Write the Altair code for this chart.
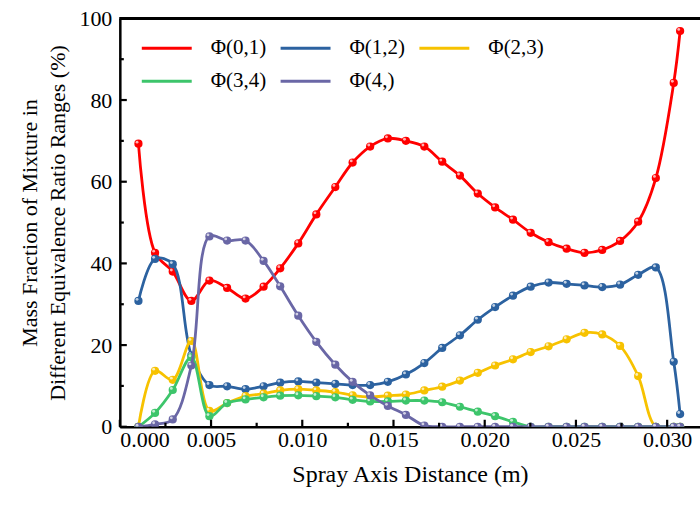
import altair as alt
import pandas as pd

# ---- data ----
x_pos = [0.00102, 0.00193, 0.00290, 0.00392, 0.00491, 0.00588, 0.00689, 0.00788,
         0.00879, 0.00978, 0.01077, 0.01181, 0.01276, 0.01372, 0.01469, 0.01568,
         0.01669, 0.01767, 0.01864, 0.01962, 0.02057, 0.02155, 0.02252, 0.02350,
         0.02449, 0.02547, 0.02644, 0.02742, 0.02841, 0.02938, 0.03036, 0.03071]

phi_01 = [69.3, 42.6, 38.0, 30.8, 35.8, 34.0, 31.4, 34.3, 38.8, 44.9, 52.0, 58.7,
          64.7, 68.6, 70.6, 70.0, 68.6, 64.9, 61.5, 57.1, 53.7, 50.7, 47.5, 45.2,
          43.6, 42.6, 43.3, 45.5, 50.2, 60.9, 84.2, 96.9]
phi_12 = [30.8, 41.1, 39.8, 17.5, 10.2, 9.9, 9.2, 9.9, 10.8, 11.1, 10.8, 10.5,
          10.2, 10.2, 11.0, 12.8, 15.6, 19.3, 22.4, 26.2, 29.3, 32.1, 34.3, 35.3,
          35.0, 34.6, 34.2, 34.8, 37.2, 39.0, 15.9, 3.1]
phi_23 = [0.0, 13.7, 11.5, 21.0, 3.9, 5.8, 7.5, 8.1, 8.9, 9.2, 8.9, 8.5,
          7.7, 7.3, 7.6, 7.9, 8.9, 9.8, 11.3, 13.2, 15.0, 16.5, 18.3, 19.7,
          21.4, 23.0, 22.6, 19.8, 12.4, 0.0, 0.0, 0.0]
phi_34 = [0.0, 3.4, 9.0, 17.0, 2.6, 5.8, 6.7, 7.2, 7.6, 7.7, 7.5, 7.2,
          6.6, 6.2, 6.2, 6.4, 6.4, 6.0, 4.9, 3.7, 2.6, 1.2, 0.0, 0.0,
          0.0, 0.0, 0.0, 0.0, 0.0, 0.0, 0.0, 0.0]
phi_4 = [0.0, 0.6, 1.8, 15.0, 46.6, 45.6, 45.6, 40.6, 34.4, 27.2, 20.8, 15.2,
         11.0, 7.7, 5.1, 2.9, 0.3, 0.0, 0.0, 0.0, 0.0, 0.0, 0.0, 0.0,
         0.0, 0.0, 0.0, 0.0, 0.0, 0.0, 0.0, 0.0]

series_names = ["Φ(0,1)", "Φ(1,2)", "Φ(2,3)", "Φ(3,4)", "Φ(4,)"]
series_values = [phi_01, phi_12, phi_23, phi_34, phi_4]
series_colors = ["#FF0000", "#2C62A0", "#F7C200", "#3DC56B", "#6A67A6"]

x_major = [0.0, 0.005, 0.010, 0.015, 0.020, 0.025, 0.030]
x_minor = [0.0025, 0.0075, 0.0125, 0.0175, 0.0225, 0.0275]
y_major = [0, 20, 40, 60, 80, 100]
y_minor = [10, 30, 50, 70, 90]

W, H = 581, 409
FONT = "Liberation Serif"

rows = []
for name, vals in zip(series_names, series_values):
    for xv, yv in zip(x_pos, vals):
        rows.append({"x": xv, "y": yv, "s": name})
df = pd.DataFrame(rows)

xs = alt.Scale(domain=[0, 0.0318], nice=False, zero=False)
ys = alt.Scale(domain=[0, 100], nice=False)
color_scale = alt.Scale(domain=series_names, range=series_colors)

x_axis = alt.Axis(values=x_major, format=".3f", tickSize=0, labelPadding=3,
                  labelFont=FONT, labelFontSize=22, labelColor="black",
                  title="Spray Axis Distance (m)", titleFont=FONT, titleFontSize=24,
                  titleFontWeight="normal", titleColor="black", titlePadding=12,
                  domainColor="black", domainWidth=2.5, grid=False)
y_axis = alt.Axis(values=y_major, tickSize=0, labelPadding=8,
                  labelFont=FONT, labelFontSize=22, labelColor="black",
                  title=["Mass Fraction of Mixture in",
                         "Different Equivalence Ratio Ranges (%)"],
                  titleFont=FONT, titleFontSize=22, titleFontWeight="normal",
                  titleColor="black", titlePadding=9, titleLineHeight=28,
                  domainColor="black", domainWidth=2.5, grid=False)

legend = alt.Legend(title=None, orient="none", legendX=22, legendY=16,
                    direction="horizontal", columns=3, gridAlign="all",
                    symbolType="M-2,0H2", symbolSize=625, symbolOffset=11,
                    symbolStrokeWidth=3, labelFont=FONT, labelFontSize=21,
                    labelColor="black", labelOffset=30, columnPadding=8,
                    rowPadding=9, labelLimit=200)

layers = []
base = alt.Chart(df).mark_point(opacity=0).encode(
    x=alt.X("x:Q", scale=xs, axis=x_axis),
    y=alt.Y("y:Q", scale=ys, axis=y_axis),
)
layers.append(base)

for name in series_names:
    sub = df[df.s == name]
    line = alt.Chart(sub).mark_line(interpolate="catmull-rom", strokeWidth=2.8, clip=True).encode(
        x=alt.X("x:Q", scale=xs),
        y=alt.Y("y:Q", scale=ys),
        color=alt.Color("s:N", scale=color_scale, sort=series_names, legend=legend),
    )
    pts = alt.Chart(sub).mark_circle(size=68, opacity=1, clip=True).encode(
        x=alt.X("x:Q", scale=xs),
        y=alt.Y("y:Q", scale=ys),
        color=alt.Color("s:N", scale=color_scale, legend=None),
    )
    hl = alt.Chart(sub).mark_circle(size=8, color="white", opacity=0.7, xOffset=-1.4,
                                    yOffset=-1.6, clip=True).encode(
        x=alt.X("x:Q", scale=xs),
        y=alt.Y("y:Q", scale=ys),
    )
    layers += [line, pts, hl]

# inward ticks
xmaj_df = pd.DataFrame({"t": x_major})
xmin_df = pd.DataFrame({"t": x_minor})
ymaj_df = pd.DataFrame({"t": y_major})
ymin_df = pd.DataFrame({"t": y_minor})
layers.append(alt.Chart(xmaj_df).mark_rule(color="black", strokeWidth=2.2).encode(
    x=alt.X("t:Q", scale=xs), y=alt.value(H), y2=alt.value(H - 7)))
layers.append(alt.Chart(xmin_df).mark_rule(color="black", strokeWidth=2.2).encode(
    x=alt.X("t:Q", scale=xs), y=alt.value(H), y2=alt.value(H - 4)))
layers.append(alt.Chart(ymaj_df).mark_rule(color="black", strokeWidth=2.2).encode(
    y=alt.Y("t:Q", scale=ys), x=alt.value(0), x2=alt.value(7)))
layers.append(alt.Chart(ymin_df).mark_rule(color="black", strokeWidth=2.2).encode(
    y=alt.Y("t:Q", scale=ys), x=alt.value(0), x2=alt.value(4)))
# top frame line
layers.append(alt.Chart(xmaj_df).mark_rule(color="black", strokeWidth=2.5).encode(
    y=alt.value(0), x=alt.value(0), x2=alt.value(W)))

chart = alt.layer(*layers).properties(
    width=W, height=H,
    autosize=alt.AutoSizeParams(type="none"),
    padding={"left": 120, "top": 18, "right": 0, "bottom": 94},
).configure_view(stroke=None).configure(background="white")

chart.save("out.html", embed_options={"renderer": "svg", "actions": False})
